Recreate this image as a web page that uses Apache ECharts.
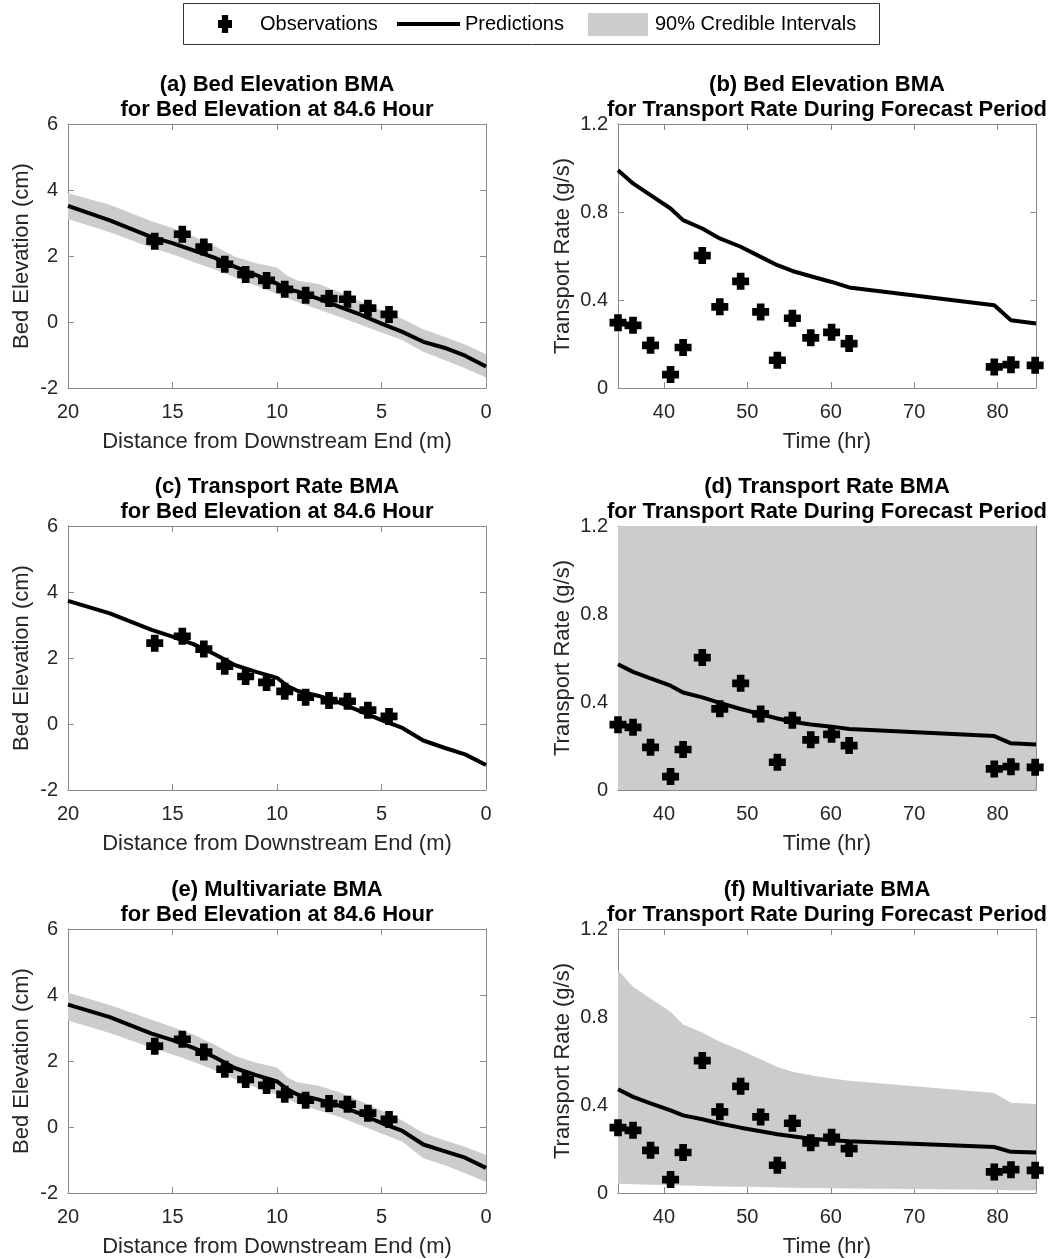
<!DOCTYPE html>
<html>
<head>
<meta charset="utf-8">
<script src="https://cdn.jsdelivr.net/npm/echarts@6/dist/echarts.min.js"></script>
<style>html,body{margin:0;padding:0;background:#fff;}#chart{width:1051px;height:1259px;}</style>
</head>
<body>
<div id="chart"></div>
<script>
// ---------------- DATA ----------------
// Bed elevation panels (distance from downstream end, m)
const distPred = [20, 18, 16, 15, 14, 13, 12, 11, 10, 9.5, 9, 8, 7, 6, 5, 4, 3, 2, 1, 0];
const obsDist = [15.85, 14.53, 13.5, 12.5, 11.5, 10.5, 9.63, 8.63, 7.51, 6.63, 5.65, 4.64];
const obsElev = [2.45, 2.66, 2.27, 1.75, 1.44, 1.26, 0.99, 0.81, 0.71, 0.69, 0.42, 0.23];

const predElevA = [3.52, 3.08, 2.57, 2.39, 2.17, 1.95, 1.67, 1.42, 1.16, 1.0, 0.92, 0.7, 0.46, 0.22, -0.05, -0.3, -0.6, -0.78, -1.02, -1.35];
const upElevA = [3.9, 3.55, 3.05, 2.85, 2.6, 2.3, 1.98, 1.78, 1.65, 1.4, 1.25, 1.15, 0.9, 0.62, 0.35, 0.1, -0.22, -0.45, -0.68, -0.98];
const loElevA = [3.12, 2.72, 2.25, 2.05, 1.82, 1.6, 1.35, 1.1, 0.85, 0.72, 0.6, 0.38, 0.15, -0.08, -0.32, -0.55, -0.9, -1.15, -1.4, -1.68];

const predElevC = [3.73, 3.35, 2.85, 2.65, 2.42, 2.12, 1.78, 1.58, 1.4, 1.15, 1.0, 0.85, 0.65, 0.38, 0.12, -0.12, -0.5, -0.72, -0.92, -1.24];

const predElevE = [3.71, 3.33, 2.83, 2.63, 2.4, 2.12, 1.78, 1.57, 1.38, 1.14, 0.98, 0.83, 0.65, 0.4, 0.12, -0.12, -0.53, -0.73, -0.93, -1.24];
const upElevE = [4.07, 3.7, 3.25, 3.03, 2.8, 2.5, 2.15, 1.95, 1.8, 1.5, 1.35, 1.25, 1.05, 0.78, 0.5, 0.2, -0.18, -0.4, -0.6, -0.85];
const loElevE = [3.23, 2.85, 2.4, 2.2, 1.98, 1.73, 1.45, 1.2, 0.98, 0.85, 0.7, 0.5, 0.3, 0.05, -0.2, -0.45, -0.95, -1.15, -1.4, -1.67];

// Transport rate panels (time, hr)
const obsTime = [34.5, 36.3, 38.4, 40.8, 42.3, 44.6, 46.7, 49.2, 51.6, 53.6, 55.4, 57.6, 60.1, 62.2, 79.6, 81.6, 84.5];
const obsRate = [0.297, 0.285, 0.194, 0.061, 0.184, 0.602, 0.369, 0.485, 0.346, 0.126, 0.317, 0.228, 0.253, 0.202, 0.096, 0.106, 0.103];
const predTime = [34.5, 36.3, 38.4, 40.8, 42.3, 44.6, 46.7, 49.2, 51.6, 53.6, 55.4, 57.6, 60.1, 62.2, 79.6, 81.6, 84.6];

const predRateB = [0.99, 0.93, 0.877, 0.816, 0.763, 0.725, 0.68, 0.642, 0.596, 0.558, 0.532, 0.508, 0.482, 0.457, 0.376, 0.308, 0.293];

const predRateD = [0.572, 0.537, 0.507, 0.474, 0.443, 0.421, 0.396, 0.368, 0.345, 0.325, 0.31, 0.298, 0.288, 0.277, 0.245, 0.212, 0.207];
const upRateD = [1.2, 1.2, 1.2, 1.2, 1.2, 1.2, 1.2, 1.2, 1.2, 1.2, 1.2, 1.2, 1.2, 1.2, 1.2, 1.2, 1.2];
const loRateD = [0, 0, 0, 0, 0, 0, 0, 0, 0, 0, 0, 0, 0, 0, 0, 0, 0];

const predRateF = [0.472, 0.437, 0.407, 0.376, 0.353, 0.335, 0.316, 0.297, 0.281, 0.267, 0.258, 0.247, 0.24, 0.235, 0.209, 0.187, 0.184];
const upRateF = [1.013, 0.938, 0.884, 0.824, 0.766, 0.73, 0.687, 0.649, 0.608, 0.573, 0.551, 0.535, 0.52, 0.51, 0.455, 0.41, 0.404];
const loRateF = [0.042, 0.04, 0.038, 0.036, 0.034, 0.032, 0.03, 0.028, 0.027, 0.025, 0.024, 0.023, 0.022, 0.021, 0.015, 0.013, 0.012];

// Ticks
const distTicks = [0, 5, 10, 15, 20];
const elevTicks = [-2, 0, 2, 4, 6];
const timeTicks = [40, 50, 60, 70, 80];
const rateTicks = [0, 0.4, 0.8, 1.2];

const titles = [
  ['(a) Bed Elevation BMA', 'for Bed Elevation at 84.6 Hour'],
  ['(b) Bed Elevation BMA', 'for Transport Rate During Forecast Period'],
  ['(c) Transport Rate BMA', 'for Bed Elevation at 84.6 Hour'],
  ['(d) Transport Rate BMA', 'for Transport Rate During Forecast Period'],
  ['(e) Multivariate BMA', 'for Bed Elevation at 84.6 Hour'],
  ['(f) Multivariate BMA', 'for Transport Rate During Forecast Period']
];
const legendLabels = ['Observations', 'Predictions', '90% Credible Intervals'];

// ---------------- LAYOUT / STYLE ----------------
const FONT = '"Liberation Sans", Arial, Helvetica, sans-serif';
const TXT = '#262626';
const BOX = '#8a8a8a';
const BAND = '#cccccc';
const PLUS = 'path://M2.75,0H7.25V2.75H10V7.25H7.25V10H2.75V7.25H0V2.75H2.75Z';
const colL = 68, colR = 618, gW = 418, gH = 264;
const rowTops = [124, 526, 929];

const grids = [], xAxes = [], yAxes = [], series = [], graphics = [];

function axisCommon(show) {
  return {
    axisLine: {show: true, onZero: false, lineStyle: {color: BOX, width: 1}},
    axisTick: {show: true, inside: true, length: 6, lineStyle: {color: BOX, width: 1}},
    splitLine: {show: false},
    axisLabel: {show: show, color: TXT, fontSize: 20, fontFamily: FONT}
  };
}

function addPanel(gi, kind) {
  const col = gi % 2, row = Math.floor(gi / 2);
  const left = col === 0 ? colL : colR;
  const top = rowTops[row];
  grids.push({left: left, top: top, width: gW, height: gH, containLabel: false});
  const isDist = kind === 'dist';
  const xBase = isDist ? {min: 0, max: 20, interval: 5, inverse: true}
                       : {min: 34.5, max: 84.6};
  const yBase = isDist ? {min: -2, max: 6, interval: 2} : {min: 0, max: 1.2, interval: 0.4};
  for (const pos of ['bottom', 'top']) {
    const ax = Object.assign({type: 'value', gridIndex: gi, position: pos}, xBase, axisCommon(pos === 'bottom'));
    ax.axisLabel.margin = 14;
    if (!isDist) {
      ax.axisTick.customValues = timeTicks;
      ax.axisLabel.customValues = timeTicks;
    }
    if (pos === 'bottom') {
      ax.name = isDist ? 'Distance from Downstream End (m)' : 'Time (hr)';
      ax.nameLocation = 'middle';
      ax.nameGap = 43;
      ax.nameTextStyle = {fontSize: 22, color: TXT, fontFamily: FONT};
    }
    xAxes.push(ax);
  }
  for (const pos of ['left', 'right']) {
    const ax = Object.assign({type: 'value', gridIndex: gi, position: pos}, yBase, axisCommon(pos === 'left'));
    ax.axisLabel.margin = 10;
    if (pos === 'left') {
      ax.name = isDist ? 'Bed Elevation (cm)' : 'Transport Rate (g/s)';
      ax.nameLocation = 'middle';
      ax.nameGap = isDist ? 35 : 44;
      ax.nameTextStyle = {fontSize: 22, color: TXT, fontFamily: FONT};
    }
    yAxes.push(ax);
  }
  // titles
  const cx = left + gW / 2;
  const t = titles[gi];
  graphics.push({type: 'text', x: cx, y: top - 39, silent: true,
    style: {text: t[0], fill: '#000', font: 'bold 22px ' + FONT, textAlign: 'center', textVerticalAlign: 'middle', align: 'center', verticalAlign: 'middle'}});
  graphics.push({type: 'text', x: cx, y: top - 14, silent: true,
    style: {text: t[1], fill: '#000', font: 'bold 22px ' + FONT, textAlign: 'center', textVerticalAlign: 'middle', align: 'center', verticalAlign: 'middle'}});
}

function bandSeries(gi, xs, lo, hi) {
  return {
    type: 'custom', name: legendLabels[2], xAxisIndex: 2 * gi, yAxisIndex: 2 * gi, z: 1, silent: true,
    data: xs.map((x, i) => [x, lo[i], hi[i]]),
    encode: {x: 0, y: [1, 2]},
    renderItem: function (params, api) {
      if (params.dataIndex !== 0) return null;
      const pts = [];
      for (let i = 0; i < xs.length; i++) pts.push(api.coord([xs[i], hi[i]]));
      for (let i = xs.length - 1; i >= 0; i--) pts.push(api.coord([xs[i], lo[i]]));
      return {type: 'polygon', shape: {points: pts}, style: {fill: BAND}};
    }
  };
}
function lineSeries(gi, xs, ys) {
  return {
    type: 'line', name: legendLabels[1], xAxisIndex: 2 * gi, yAxisIndex: 2 * gi, z: 2, silent: true,
    data: xs.map((x, i) => [x, ys[i]]), symbol: 'none', smooth: false,
    lineStyle: {color: '#000', width: 4, join: 'round'}
  };
}
function obsSeries(gi, xs, ys) {
  return {
    type: 'scatter', name: legendLabels[0], xAxisIndex: 2 * gi, yAxisIndex: 2 * gi, z: 3, silent: true,
    data: xs.map((x, i) => [x, ys[i]]), symbol: PLUS, symbolSize: 17,
    itemStyle: {color: '#000', opacity: 1}
  };
}

const kinds = ['dist', 'time', 'dist', 'time', 'dist', 'time'];
kinds.forEach((k, i) => addPanel(i, k));

// (a)
series.push(bandSeries(0, distPred, loElevA, upElevA));
series.push(lineSeries(0, distPred, predElevA));
series.push(obsSeries(0, obsDist, obsElev));
// (b)
series.push(lineSeries(1, predTime, predRateB));
series.push(obsSeries(1, obsTime, obsRate));
// (c)
series.push(lineSeries(2, distPred, predElevC));
series.push(obsSeries(2, obsDist, obsElev));
// (d)
series.push(bandSeries(3, predTime, loRateD, upRateD));
series.push(lineSeries(3, predTime, predRateD));
series.push(obsSeries(3, obsTime, obsRate));
// (e)
series.push(bandSeries(4, distPred, loElevE, upElevE));
series.push(lineSeries(4, distPred, predElevE));
series.push(obsSeries(4, obsDist, obsElev));
// (f)
series.push(bandSeries(5, predTime, loRateF, upRateF));
series.push(lineSeries(5, predTime, predRateF));
series.push(obsSeries(5, obsTime, obsRate));

// Legend (drawn as graphic elements)
function plusPoints(x, y, w, h) {
  const a = 0.275, b = 0.725;
  const P = [[a,0],[b,0],[b,a],[1,a],[1,b],[b,b],[b,1],[a,1],[a,b],[0,b],[0,a],[a,a]];
  return P.map(p => [x + p[0] * w, y + p[1] * h]);
}
graphics.push({type: 'rect', shape: {x: 183.5, y: 3.5, width: 696, height: 41}, silent: true,
  style: {fill: '#fff', stroke: '#333', lineWidth: 1}, z: 10});
graphics.push({type: 'polygon', shape: {points: plusPoints(218, 15, 14, 18)}, silent: true, style: {fill: '#000'}, z: 11});
graphics.push({type: 'text', x: 260, y: 24, silent: true, z: 11,
  style: {text: legendLabels[0], fill: '#000', font: '20px ' + FONT, textAlign: 'left', textVerticalAlign: 'middle', align: 'left', verticalAlign: 'middle'}});
graphics.push({type: 'line', shape: {x1: 397, y1: 24, x2: 460, y2: 24}, silent: true, z: 11,
  style: {stroke: '#000', lineWidth: 4}});
graphics.push({type: 'text', x: 465, y: 24, silent: true, z: 11,
  style: {text: legendLabels[1], fill: '#000', font: '20px ' + FONT, textAlign: 'left', textVerticalAlign: 'middle', align: 'left', verticalAlign: 'middle'}});
graphics.push({type: 'rect', shape: {x: 588, y: 13, width: 60, height: 23}, silent: true, z: 11,
  style: {fill: BAND}});
graphics.push({type: 'text', x: 655, y: 24, silent: true, z: 11,
  style: {text: legendLabels[2], fill: '#000', font: '20px ' + FONT, textAlign: 'left', textVerticalAlign: 'middle', align: 'left', verticalAlign: 'middle'}});

const chart = echarts.init(document.getElementById('chart'), null, {renderer: 'canvas'});
chart.setOption({
  backgroundColor: '#fff',
  animation: false,
  grid: grids,
  xAxis: xAxes,
  yAxis: yAxes,
  series: series,
  graphic: {elements: graphics}
});
</script>
</body>
</html>
